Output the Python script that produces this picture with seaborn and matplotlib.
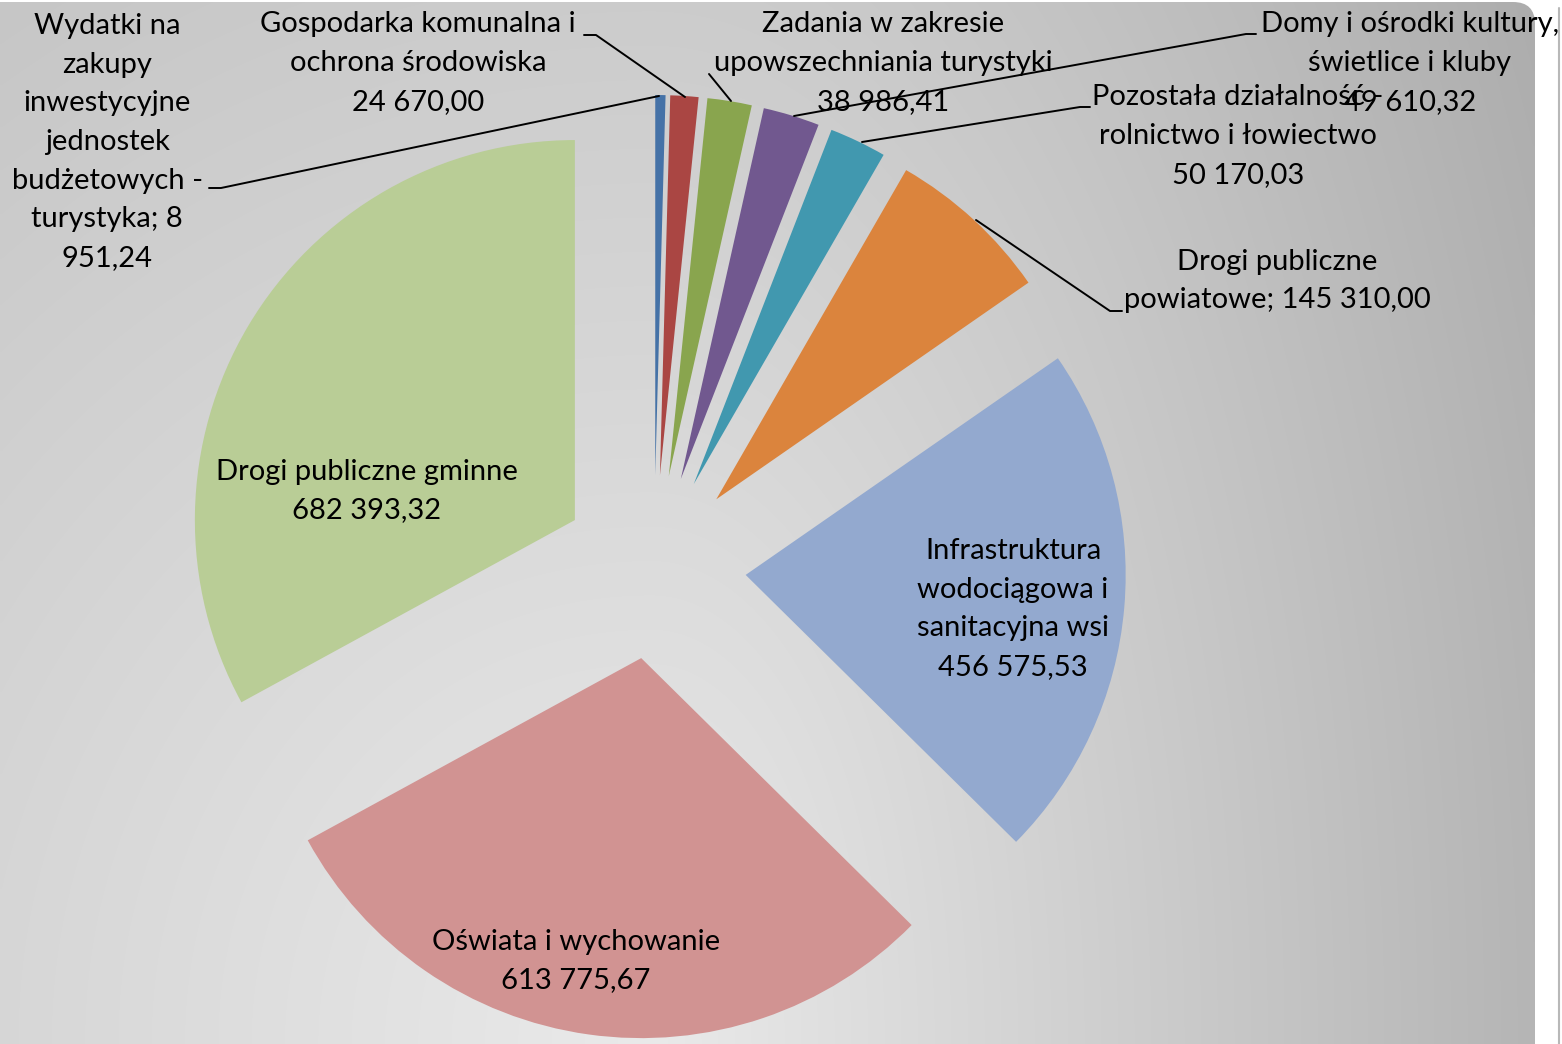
import numpy as np
import seaborn as sns
import matplotlib.pyplot as plt
from matplotlib.patches import FancyBboxPatch

# data (clockwise from 12 o'clock)
categories = [
    "Wydatki na zakupy inwestycyjne jednostek budżetowych - turystyka",
    "Gospodarka komunalna i ochrona środowiska",
    "Zadania w zakresie upowszechniania turystyki",
    "Domy i ośrodki kultury, świetlice i kluby",
    "Pozostała działalność - rolnictwo i łowiectwo",
    "Drogi publiczne powiatowe",
    "Infrastruktura wodociągowa i sanitacyjna wsi",
    "Oświata i wychowanie",
    "Drogi publiczne gminne",
]
values = [8951.24, 24670.00, 38986.41, 49610.32, 50170.03,
          145310.00, 456575.53, 613775.67, 682393.32]
label_texts = [
    "Wydatki na\nzakupy\ninwestycyjne\njednostek\nbudżetowych -\nturystyka; 8\n951,24",
    "Gospodarka komunalna i\nochrona środowiska\n24 670,00",
    "Zadania w zakresie\nupowszechniania turystyki\n38 986,41",
    "Domy i ośrodki kultury,\nświetlice i kluby\n49 610,32",
    "Pozostała działalność -\nrolnictwo i łowiectwo\n50 170,03",
    "Drogi publiczne\npowiatowe; 145 310,00",
    "Infrastruktura\nwodociągowa i\nsanitacyjna wsi\n456 575,53",
    "Oświata i wychowanie\n613 775,67",
    "Drogi publiczne gminne\n682 393,32",
]
colors = ["#4572A7", "#AA4643", "#89A54E", "#71588F", "#4198AF",
          "#DB843D", "#93A9CF", "#D19392", "#B9CD96"]

sns.set_theme(style="white")
plt.rcParams["font.family"] = ["Lato", "DejaVu Sans"]

W, H = 1562, 1044
fig = plt.figure(figsize=(W / 100, H / 100), dpi=100)
fig.patch.set_facecolor("white")
ax = fig.add_axes([0, 0, 1, 1])

# gray gradient backdrop of the chart area (only top-right corner rounded)
xx, yy = np.meshgrid(np.arange(0, 1536, 4), np.arange(0, H + 4, 4))
dx = xx - 650.0
kx = np.where(dx < 0, 0.03, 0.06)
g = 234 - np.sqrt((kx * dx) ** 2 + (0.029 * (H - yy)) ** 2)
g = np.clip(g, 150, 235) / 255.0
img = ax.imshow(np.dstack([g, g, g]), extent=(0, 1535, H, 0),
                interpolation="bilinear", zorder=0)
box = FancyBboxPatch((-40, 2), 1575, H + 60,
                     boxstyle="round,pad=0,rounding_size=22",
                     facecolor="none", edgecolor="none", transform=ax.transData)
ax.add_patch(box)
img.set_clip_path(box)
ax.plot([1559, 1559], [8, H], color="#B8B8B8", lw=1.5, zorder=1)

# y axis runs downwards, so counterclock=True with startangle=-90 goes clockwise on screen
ax.pie(values, colors=colors, radius=380, center=(654, 567),
       explode=[92] * len(values), startangle=-90, counterclock=True,
       wedgeprops=dict(linewidth=0), frame=True)

ax.set_xlim(0, W)
ax.set_ylim(H, 0)
ax.set_aspect("equal")
ax.axis("off")

fs = 21
ls = 1.6
label_pos = [(107, 142), (418, 63), (883, 63), (1410, 63), (1238, 136),
             (1277, 281), (1013, 609), (576, 961), (367, 491)]
for txt, (x, y) in zip(label_texts, label_pos):
    ax.text(x, y, txt, ha="center", va="center", fontsize=fs,
            linespacing=ls, color="black", zorder=5)

# leader lines
leaders = [
    [(209, 188), (221, 188), (659, 96)],
    [(584, 35), (596, 35), (685, 97)],
    [(709, 74), (731, 101)],
    [(1256, 34), (1246, 34), (794, 116)],
    [(1090, 107), (1080, 107), (862, 142)],
    [(1122, 311), (1110, 311), (976, 220)],
]
for pts in leaders:
    px, py = zip(*pts)
    ax.plot(px, py, color="black", lw=1.4, zorder=4)

fig.savefig("out.png", dpi=100)
